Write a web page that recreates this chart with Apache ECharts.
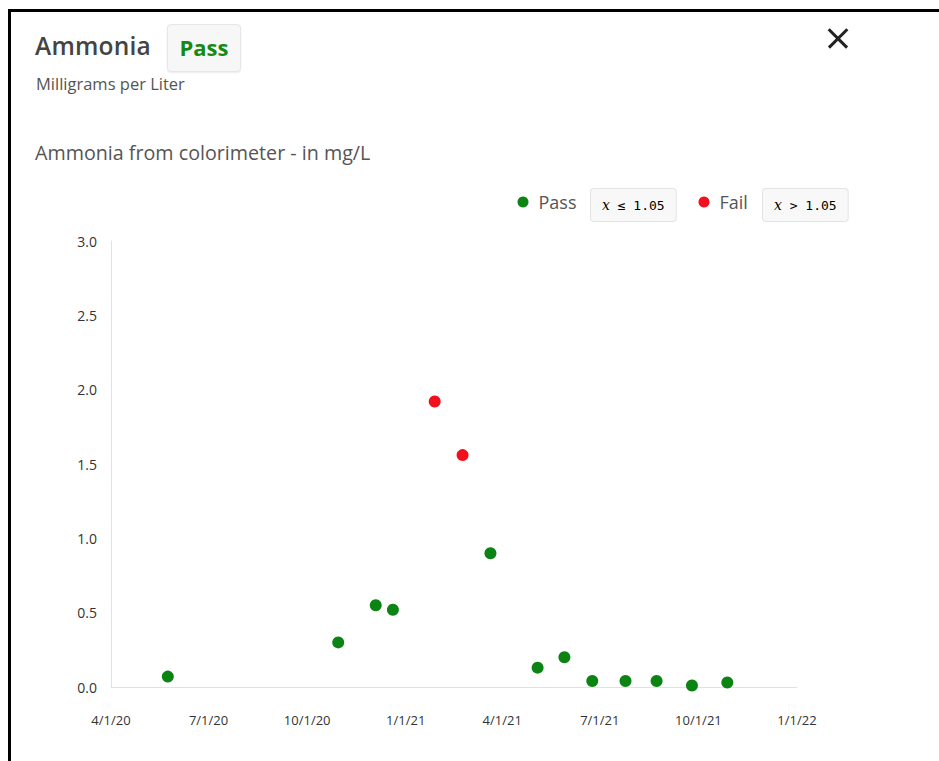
<!DOCTYPE html>
<html>
<head>
<meta charset="utf-8">
<script src="https://cdn.jsdelivr.net/npm/echarts@6/dist/echarts.min.js"></script>
<style>
  html, body { margin: 0; padding: 0; background: #fff; width: 939px; height: 761px; overflow: hidden; font-family: "Open Sans", Lato, sans-serif; }
  #frame { position: absolute; left: 8px; top: 9px; right: 0; bottom: 0; border-left: 3px solid #000; border-top: 3px solid #000; }
  #chart { position: absolute; left: 0; top: 0; width: 939px; height: 761px; }
  .title { position: absolute; left: 35px; top: 29px; font-size: 24.5px; font-weight: 600; color: #444; letter-spacing: 0.2px; }
  .badge { position: absolute; left: 167px; top: 24px; width: 74px; height: 48px; background: #f7f7f7; border: 1px solid #e6e6e6; border-radius: 4px; box-shadow: 0 1px 2px rgba(0,0,0,0.08); box-sizing: border-box; text-align: center; line-height: 45px; font-size: 22px; font-weight: 700; color: #138a13; }
  .unit { position: absolute; left: 36px; top: 72px; font-size: 16.5px; color: #555; }
  .close { position: absolute; left: 838px; top: 38px; width: 0; height: 0; }
  .close::before, .close::after { content: ""; position: absolute; left: -13px; top: -1.3px; width: 26px; height: 2.6px; background: #222; }
  .close::before { transform: rotate(45deg); }
  .close::after { transform: rotate(-45deg); }
  .sub { position: absolute; left: 35px; top: 139px; font-size: 19.7px; color: #555; }
</style>
</head>
<body>
<div id="frame"></div>
<div class="title">Ammonia</div>
<div class="badge">Pass</div>
<div class="unit">Milligrams per Liter</div>
<div class="close" aria-label="close"></div>
<div class="sub">Ammonia from colorimeter - in mg/L</div>
<div id="chart"></div>
<script>
// ---- data ----
const passDates  = ['2020-05-24','2020-10-30','2020-12-04','2020-12-20','2021-03-21','2021-05-04','2021-05-29','2021-06-24','2021-07-25','2021-08-23','2021-09-25','2021-10-28'];
const passValues = [0.07, 0.30, 0.55, 0.52, 0.90, 0.13, 0.20, 0.04, 0.04, 0.04, 0.01, 0.03];
const failDates  = ['2021-01-28','2021-02-23'];
const failValues = [1.92, 1.56];
const xTickDates = ['2020-04-01','2020-07-01','2020-10-01','2021-01-01','2021-04-01','2021-07-01','2021-10-01','2022-01-01'];
const yTicks     = [0, 0.5, 1.0, 1.5, 2.0, 2.5, 3.0];
const passRange  = 'x ≤ 1.05';
const failRange  = 'x > 1.05';

function ts(s) { const p = s.split('-').map(Number); return Date.UTC(p[0], p[1]-1, p[2]); }
function fmtDate(v) { const d = new Date(v); return (d.getUTCMonth()+1) + '/' + d.getUTCDate() + '/' + String(d.getUTCFullYear()).slice(2); }

const chart = echarts.init(document.getElementById('chart'), null, { renderer: 'svg' });
const legendText = { fontFamily: '"Open Sans", sans-serif', fontSize: 18, color: '#555', padding: [0, 0, 0, 5] };
const rangeStyle = (t) => ({
  text: '{i|x}{m|' + t.slice(1) + '}',
  rich: {
    i: { fontFamily: '"DejaVu Serif", serif', fontStyle: 'italic', fontSize: 14, color: '#555' },
    m: { fontFamily: '"DejaVu Sans Mono", monospace', fontSize: 13, color: '#555' }
  },
  backgroundColor: '#f8f8f8', borderColor: '#e3e3e3', borderWidth: 1, borderRadius: 3,
  padding: [9, 11, 9, 11]
});
chart.setOption({
  animation: false,
  grid: { left: 111, right: 142, top: 241, bottom: 74, containLabel: false },
  legend: [
    { data: ['Pass'], left: 517.5, top: 193, icon: 'circle', itemWidth: 11, itemHeight: 11, textStyle: legendText, padding: 0 },
    { data: ['Fail'], left: 698.5, top: 193, icon: 'circle', itemWidth: 11, itemHeight: 11, textStyle: legendText, padding: 0 }
  ],
  graphic: [
    { type: 'text', left: 590, top: 188, style: rangeStyle(passRange) },
    { type: 'text', left: 762, top: 188, style: rangeStyle(failRange) }
  ],
  xAxis: {
    type: 'value',
    min: ts(xTickDates[0]),
    max: ts(xTickDates[xTickDates.length - 1]),
    axisLine: { lineStyle: { color: '#e2e2e2' } },
    axisTick: { show: false },
    splitLine: { show: false },
    axisLabel: {
      customValues: xTickDates.map(ts),
      formatter: (v) => fmtDate(v),
      margin: 26,
      fontFamily: '"Open Sans", sans-serif', fontSize: 13, color: '#333'
    }
  },
  yAxis: {
    type: 'value',
    min: yTicks[0], max: yTicks[yTicks.length - 1], interval: 0.5,
    axisLine: { show: true, lineStyle: { color: '#e2e2e2' } },
    axisTick: { show: false },
    splitLine: { show: false },
    axisLabel: { formatter: (v) => v.toFixed(1), margin: 14, fontFamily: '"Open Sans", sans-serif', fontSize: 14, color: '#333' }
  },
  series: [
    { name: 'Pass', type: 'scatter', symbolSize: 12, itemStyle: { color: '#0b8413', opacity: 1 },
      data: passDates.map((d, i) => [ts(d), passValues[i]]) },
    { name: 'Fail', type: 'scatter', symbolSize: 12, itemStyle: { color: '#f2101c', opacity: 1 },
      data: failDates.map((d, i) => [ts(d), failValues[i]]) }
  ]
});
</script>
</body>
</html>
